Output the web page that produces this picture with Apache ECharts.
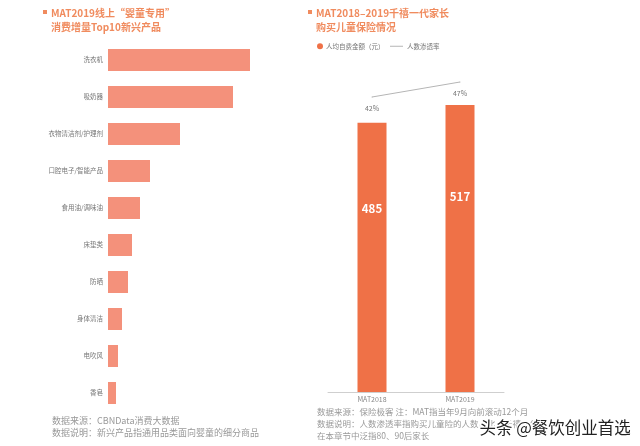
<!DOCTYPE html>
<html><head><meta charset="utf-8">
<script src="https://cdn.jsdelivr.net/npm/echarts@6/dist/echarts.min.js"></script>
<style>html,body{margin:0;padding:0;background:#fff}#c{width:640px;height:446px}</style>
</head><body><div id="c"></div>
<script>
// Left chart: top10 emerging products (relative growth)
const productCats = ['洗衣机','吸奶器','衣物清洁剂/护理剂','口腔电子/智能产品','食用油/调味油','床垫类','防晒','身体清洁','电吹风','香皂'];
const productVals = [142,125,72,42,32,24,20,14,10,8];
// Right chart: insurance
const yearCats = ['MAT2018','MAT2019'];
const spendVals = [485,517];
const penetrationVals = [42,47];

const FONT = '"Noto Sans CJK SC","Noto Sans",sans-serif';
const TITLE_C = '#F08B5E';
const chart = echarts.init(document.getElementById('c'));
chart.setOption({
  animation:false,
  textStyle:{fontFamily:FONT},
  grid:[
    {left:108, top:41.5, width:142, height:370, containLabel:false},
    {left:328, right:136, top:59, bottom:54},
    {left:328, right:136, top:82, height:15}
  ],
  xAxis:[
    {type:'value', gridIndex:0, min:0, max:142, show:false},
    {type:'category', gridIndex:1, data:yearCats,
      axisLine:{lineStyle:{color:'#cfcfcf'}}, axisTick:{show:false},
      axisLabel:{color:'#888', fontSize:7, margin:4}},
    {type:'category', gridIndex:2, data:yearCats, show:false}
  ],
  yAxis:[
    {type:'category', gridIndex:0, data:productCats, inverse:true,
      axisLine:{show:false}, axisTick:{show:false},
      axisLabel:{color:'#777', fontSize:6.5, margin:5}},
    {type:'value', gridIndex:1, min:0, max:600, show:false},
    {type:'value', gridIndex:2, min:42, max:47, show:false}
  ],
  legend:[
    {left:312, top:38, itemWidth:6, itemHeight:6, itemGap:10, icon:'circle',
      data:['人均自费金额（元）'], textStyle:{fontSize:6.5, color:'#777', padding:[0,0,0,-2]}},
    {left:385, top:38, itemWidth:13, itemHeight:1, icon:'rect',
      data:['人数渗透率'], textStyle:{fontSize:6.5, color:'#777', padding:[0,0,0,-1]}}
  ],
  series:[
    {type:'bar', xAxisIndex:0, yAxisIndex:0, data:productVals, barWidth:22,
      itemStyle:{color:'#F4917B'}, silent:true},
    {name:'人均自费金额（元）', type:'bar', xAxisIndex:1, yAxisIndex:1, data:spendVals, barWidth:29,
      itemStyle:{color:'#EF7147'},
      label:{show:true, position:['50%','32%'], align:'center', verticalAlign:'middle',
        color:'#fff', fontWeight:'bold', fontSize:11.5}},
    {name:'人数渗透率', type:'line', xAxisIndex:2, yAxisIndex:2, data:penetrationVals,
      symbol:'circle', symbolSize:1, showSymbol:true, clip:false,
      lineStyle:{color:'#b5b5b5', width:1}, itemStyle:{color:'#b5b5b5'},
      label:{show:true, position:'bottom', distance:7, color:'#777', fontSize:7,
        formatter:p=>p.value+'%'}}
  ],
  graphic:[
    {type:'rect', shape:{x:43, y:10, width:4, height:4}, style:{fill:TITLE_C}},
    {type:'text', left:51, top:6, style:{text:'MAT2019线上“婴童专用”\n消费增量Top10新兴产品', fill:TITLE_C,
      font:'bold 10px '+FONT, lineHeight:14}},
    {type:'rect', shape:{x:308, y:10, width:4, height:4}, style:{fill:TITLE_C}},
    {type:'text', left:316, top:6, style:{text:'MAT2018–2019千禧一代家长\n购买儿童保险情况', fill:TITLE_C,
      font:'bold 10px '+FONT, lineHeight:14}},
    {type:'text', left:52, top:414, style:{text:'数据来源：CBNData消费大数据\n数据说明：新兴产品指通用品类面向婴童的细分商品',
      fill:'#999', font:'9px '+FONT, lineHeight:12.5}},
    {type:'text', left:317, top:406, style:{text:'数据来源：保险极客 注：MAT指当年9月向前滚动12个月\n数据说明：人数渗透率指购买儿童险的人数占比，千禧一代\n在本章节中泛指80、90后家长',
      fill:'#999', font:'8.5px '+FONT, lineHeight:12}},
    {type:'text', left:478, top:418, z:100, style:{text:'头条 @餐饮创业首选', fill:'#222',
      font:'16.5px '+FONT, stroke:'#fff', lineWidth:3}}
  ]
});
</script></body></html>
